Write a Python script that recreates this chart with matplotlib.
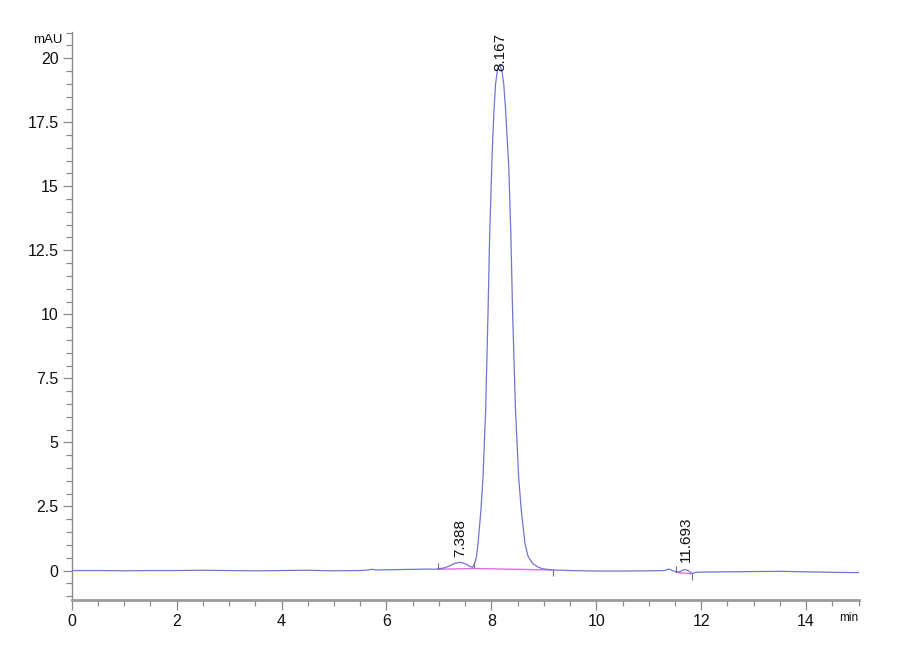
import matplotlib
matplotlib.use("Agg")
import matplotlib.pyplot as plt
from matplotlib.ticker import MultipleLocator

# ---- data ----
time_min = [0.0, 0.5, 1.0, 1.5, 2.0, 2.5, 3.0, 3.5, 4.0, 4.5, 5.0, 5.5, 5.65, 5.72, 5.8,
            6.0, 6.3, 6.6, 6.8, 6.9, 7.0, 7.1, 7.2, 7.3, 7.4, 7.5, 7.58, 7.64, 7.68, 7.72,
            7.745, 7.80, 7.84, 7.89, 7.935, 7.965, 8.015, 8.05, 8.08, 8.12, 8.16, 8.20,
            8.235, 8.27, 8.33, 8.37, 8.405, 8.46, 8.52, 8.57, 8.64, 8.70, 8.79, 8.90,
            9.0, 9.2, 9.5, 10.0, 10.5, 11.0, 11.3, 11.38, 11.45, 11.52, 11.58, 11.68,
            11.75, 11.83, 11.9, 12.0, 12.5, 13.0, 13.5, 14.0, 14.5, 15.0]
signal_mau = [0.0, 0.0, -0.01, 0.0, 0.0, 0.01, 0.0, -0.01, 0.0, 0.01, -0.01, 0.0, 0.02, 0.05, 0.02,
              0.03, 0.04, 0.05, 0.06, 0.05, 0.07, 0.10, 0.18, 0.28, 0.32, 0.27, 0.17, 0.13, 0.25, 0.6,
              1.05, 2.34, 3.63, 6.25, 10.0, 12.9, 16.3, 18.0, 19.0, 19.6, 19.75, 19.5,
              19.0, 18.0, 15.8, 13.2, 10.0, 6.25, 3.63, 2.34, 1.05, 0.55, 0.27, 0.12,
              0.06, 0.02, 0.0, -0.02, -0.02, -0.01, 0.0, 0.06, 0.0, -0.05, -0.05, 0.04,
              0.0, -0.12, -0.07, -0.06, -0.05, -0.04, -0.03, -0.05, -0.07, -0.08]

# integration baselines
base1_t = [6.98, 7.66, 9.17]
base1_y = [0.05, 0.08, 0.02]
base2_t = [11.52, 11.83]
base2_y = [-0.07, -0.13]

# peak start/end markers (direction: +1 up, -1 down)
mark_t = [6.98, 7.66, 9.17, 11.52, 11.83]
mark_y = [0.05, 0.08, 0.02, -0.07, -0.13]
mark_dir = [1, 1, -1, 1, -1]

# peak labels
peak_rt = ["7.388", "8.167", "11.693"]
peak_x = [7.40, 8.167, 11.70]
peak_y = [0.52, 19.5, 0.33]

x_ticks = [0, 2, 4, 6, 8, 10, 12, 14]
y_ticks = [0, 2.5, 5, 7.5, 10, 12.5, 15, 17.5, 20]
y_ticklabels = ["0", "2.5", "5", "7.5", "10", "12.5", "15", "17.5", "20"]

tick_font = ["Liberation Sans", "DejaVu Sans"]
tick_size = 11.5

fig = plt.figure(figsize=(9, 6.6), dpi=100)
ax = fig.add_axes([0.0797, 0.0909, 0.8743, 0.8606])

line_col = "#7474d4"
pink = "#e070e0"
axis_col = "#8a8a8a"

ax.plot(base1_t, base1_y, color=pink, lw=1.0, zorder=2)
ax.plot(base2_t, base2_y, color=pink, lw=1.0, zorder=2)
ax.plot(time_min, signal_mau, color=line_col, lw=0.9, zorder=3)
for t, y, d in zip(mark_t, mark_y, mark_dir):
    ax.vlines(t, y, y + d * 0.24, color="#707070", lw=0.8, zorder=4)

for lab, x, y in zip(peak_rt, peak_x, peak_y):
    ax.text(x, y, lab, rotation=90, ha="center", va="bottom", fontsize=11,
            family=["Liberation Sans", "DejaVu Sans"], color="#111111", zorder=5)

ax.set_xlim(0, 15.0)
ax.set_ylim(-1.15, 21.02)

for s in ["top", "right"]:
    ax.spines[s].set_visible(False)
ax.spines["left"].set_color(axis_col)
ax.spines["left"].set_linewidth(1.0)
ax.spines["bottom"].set_color("#9a9a9a")
ax.spines["bottom"].set_linewidth(2.0)

ax.set_xticks(x_ticks)
ax.set_xticklabels([str(v) for v in x_ticks])
ax.xaxis.set_minor_locator(MultipleLocator(0.5))
ax.set_yticks(y_ticks)
ax.set_yticklabels(y_ticklabels)
ax.yaxis.set_minor_locator(MultipleLocator(0.5))

ax.tick_params(axis="x", which="major", direction="out", length=7, width=0.9, color=axis_col, pad=3)
ax.tick_params(axis="x", which="minor", direction="out", length=4.5, width=0.9, color=axis_col)
ax.tick_params(axis="y", which="major", direction="out", length=6.5, width=0.9, color=axis_col, pad=3)
ax.tick_params(axis="y", which="minor", direction="out", length=4, width=0.9, color=axis_col)
for lab in ax.get_xticklabels() + ax.get_yticklabels():
    lab.set_family(tick_font)
    lab.set_fontsize(tick_size)
    lab.set_color("#111111")

ax.text(-0.0115, 20.7, "mAU", transform=ax.get_yaxis_transform(), ha="right", va="center",
        family=tick_font, fontsize=9.5, color="#111111")
ax.text(15.0, -0.031, "min", transform=ax.get_xaxis_transform(), ha="right", va="center",
        family=tick_font, fontsize=8.5, color="#111111")

fig.savefig("out.png", dpi=100, facecolor="white")
